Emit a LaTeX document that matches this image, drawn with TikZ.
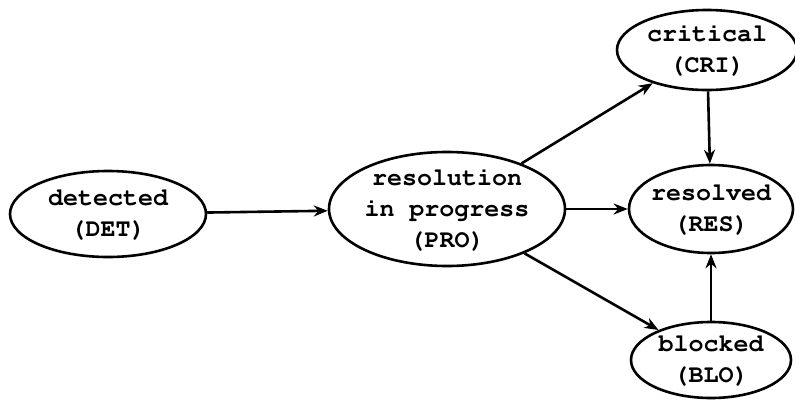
\documentclass[tikz,border=0pt]{standalone}
\usepackage[T1]{fontenc}
\usepackage{courier}
\usepackage{tikz}
\usetikzlibrary{shapes.geometric,arrows.meta}

\begin{document}
\begin{tikzpicture}[%
    x=1pt, y=-1pt,
    >={Stealth[length=14pt,width=11pt,inset=4.5pt]},
    every path/.style={line width=2.6pt},
    state/.style={ellipse, draw, line width=2.6pt, inner sep=-10pt, align=center,
      font=\fontsize{25}{31}\selectfont\ttfamily\bfseries}
  ]
  \useasboundingbox (0,0) rectangle (795,399);

  \node[state, minimum width=196pt, minimum height=86pt] (DET) at (108,214)
    {detected\\(DET)};
  \node[state, minimum width=236pt, minimum height=114pt] (PRO) at (447,209)
    {resolution\\in progress\\(PRO)};
  \node[state, minimum width=180pt, minimum height=80pt] (CRI) at (707,50)
    {critical\\(CRI)};
  \node[state, minimum width=164pt, minimum height=88pt] (RES) at (711,209)
    {resolved\\(RES)};
  \node[state, minimum width=160pt, minimum height=76pt] (BLO) at (711,360)
    {blocked\\(BLO)};

  \path (DET) edge[->] (PRO)
        (PRO) edge[->] (CRI)
        (PRO) edge[->] (RES)
        (PRO) edge[->] (BLO);
  \path (CRI) edge[->] (RES)
        (BLO) edge[->] (RES);
\end{tikzpicture}
\end{document}
